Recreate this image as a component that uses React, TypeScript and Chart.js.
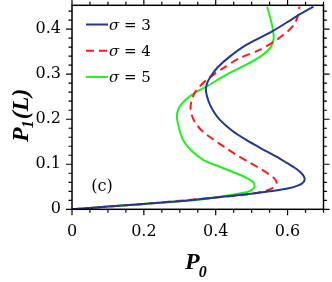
import React, { useEffect, useRef } from "react";
import { Chart, registerables } from "chart.js";

Chart.register(...registerables);

// ---- data ----
const sigmaLabels = ["σ = 3", "σ = 4", "σ = 5"];

const blueP0 = [0, 0.1, 0.2, 0.3, 0.4, 0.48, 0.55, 0.6, 0.63, 0.645, 0.647, 0.64, 0.624, 0.598, 0.569, 0.527, 0.485, 0.445, 0.411, 0.392, 0.38, 0.373, 0.376, 0.388, 0.405, 0.439, 0.485, 0.557, 0.624, 0.672];
const blueP1 = [0, 0.006, 0.012, 0.018, 0.026, 0.033, 0.04, 0.046, 0.053, 0.061, 0.07, 0.079, 0.09, 0.103, 0.117, 0.135, 0.154, 0.175, 0.199, 0.22, 0.24, 0.262, 0.28, 0.297, 0.315, 0.339, 0.365, 0.395, 0.428, 0.45];

const redP0 = [0, 0.1, 0.2, 0.3, 0.4, 0.476, 0.53, 0.558, 0.569, 0.566, 0.552, 0.522, 0.49, 0.457, 0.425, 0.395, 0.365, 0.344, 0.333, 0.33, 0.334, 0.345, 0.374, 0.42, 0.467, 0.522, 0.569, 0.6, 0.618, 0.628, 0.632, 0.633];
const redP1 = [0, 0.006, 0.012, 0.019, 0.026, 0.032, 0.039, 0.047, 0.057, 0.066, 0.076, 0.091, 0.106, 0.121, 0.138, 0.154, 0.172, 0.191, 0.21, 0.228, 0.245, 0.263, 0.287, 0.313, 0.336, 0.354, 0.376, 0.395, 0.41, 0.428, 0.443, 0.45];

const greenP0 = [0, 0.1, 0.2, 0.3, 0.36, 0.411, 0.458, 0.49, 0.505, 0.508, 0.504, 0.485, 0.457, 0.41, 0.365, 0.333, 0.309, 0.298, 0.292, 0.298, 0.317, 0.343, 0.375, 0.43, 0.485, 0.531, 0.553, 0.561, 0.56, 0.555, 0.549, 0.543];
const greenP1 = [0, 0.006, 0.012, 0.018, 0.022, 0.028, 0.034, 0.039, 0.046, 0.052, 0.061, 0.07, 0.08, 0.095, 0.11, 0.13, 0.154, 0.18, 0.206, 0.226, 0.244, 0.259, 0.273, 0.299, 0.321, 0.343, 0.36, 0.378, 0.395, 0.415, 0.433, 0.45];

const xTickValues = [0, 0.2, 0.4, 0.6];
const yTickValues = [0, 0.1, 0.2, 0.3, 0.4];
const panelLabel = "(c)";

const colors = ["#22388f", "#ff1a1a", "#22ee22"];
const dashes: number[][] = [[], [8, 5], []];

function pts(xs: number[], ys: number[]) {
  return xs.map((v, i) => ({ x: v, y: ys[i] }));
}

const decorPlugin = {
  id: "decor",
  afterDraw(chart: any) {
    const { ctx, chartArea: a, scales } = chart;
    const xs = scales.x;
    const ys = scales.y;
    ctx.save();
    // frame
    ctx.strokeStyle = "#000";
    ctx.lineWidth = 1.5;
    ctx.strokeRect(a.left, a.top, a.right - a.left, a.bottom - a.top);
    // ticks (outward)
    ctx.lineWidth = 1.2;
    ctx.beginPath();
    for (let i = 0; i <= 14; i++) {
      const px = xs.getPixelForValue(i * 0.05);
      const len = i % 4 === 0 ? 6 : 3.5;
      ctx.moveTo(px, a.bottom);
      ctx.lineTo(px, a.bottom + len);
      ctx.moveTo(px, a.top);
      ctx.lineTo(px, a.top - len);
    }
    for (let i = 0; i <= 22; i++) {
      const py = ys.getPixelForValue(i * 0.02);
      const len = i % 5 === 0 ? 6 : 3.5;
      ctx.moveTo(a.left, py);
      ctx.lineTo(a.left - len, py);
      ctx.moveTo(a.right, py);
      ctx.lineTo(a.right + len, py);
    }
    ctx.stroke();

    // legend
    const ds = chart.data.datasets;
    ds.forEach((d: any, i: number) => {
      const yy = 24.5 + i * 26.2;
      ctx.save();
      ctx.strokeStyle = d.borderColor;
      ctx.lineWidth = d.borderWidth;
      ctx.setLineDash(d.borderDash || []);
      ctx.beginPath();
      ctx.moveTo(86, yy);
      ctx.lineTo(108, yy);
      ctx.stroke();
      ctx.restore();
      ctx.fillStyle = "#000";
      ctx.textBaseline = "alphabetic";
      const label: string = d.label;
      const sym = label.charAt(0);
      const rest = label.slice(1);
      ctx.font = 'italic 15px "DejaVu Serif"';
      ctx.fillText(sym, 109, yy + 5);
      const w = ctx.measureText(sym).width;
      ctx.font = '15px "DejaVu Serif"';
      ctx.fillText(rest, 109 + w, yy + 5);
    });

    // panel label
    ctx.font = '16px "DejaVu Serif"';
    ctx.fillStyle = "#000";
    ctx.textAlign = "center";
    ctx.fillText(panelLabel, 102, 191);
    ctx.textAlign = "left";

    // x title P_0
    ctx.font = 'bold italic 24px "Liberation Serif"';
    ctx.fillText("P", 185, 269);
    let wP = ctx.measureText("P").width;
    ctx.font = 'bold italic 16px "Liberation Serif"';
    ctx.fillText("0", 185 + wP - 1, 277);

    // y title P_1(L)
    ctx.save();
    ctx.translate(28, 142);
    ctx.rotate(-Math.PI / 2);
    ctx.font = 'bold italic 24px "Liberation Serif"';
    ctx.fillText("P", 0, 0);
    wP = ctx.measureText("P").width;
    ctx.font = 'bold italic 16px "Liberation Serif"';
    ctx.fillText("1", wP - 1, 5);
    const w1 = ctx.measureText("1").width;
    ctx.font = 'bold italic 24px "Liberation Serif"';
    ctx.fillText("(L)", wP + w1, 0);
    ctx.restore();

    ctx.restore();
  },
};

export default function App() {
  const ref = useRef<HTMLCanvasElement | null>(null);
  useEffect(() => {
    if (!ref.current) return;
    const series = [
      pts(blueP0, blueP1),
      pts(redP0, redP1),
      pts(greenP0, greenP1),
    ];
    const chart = new Chart(ref.current, {
      type: "scatter",
      data: {
        datasets: series.map((s, i) => ({
          label: sigmaLabels[i],
          data: s,
          showLine: true,
          borderColor: colors[i],
          backgroundColor: colors[i],
          borderWidth: 2,
          borderDash: dashes[i],
          pointRadius: 0,
          tension: 0.3,
          fill: false,
        })),
      },
      options: {
        animation: false,
        responsive: false,
        events: [],
        layout: { padding: { left: 0, right: 8.5, top: 5.3, bottom: 0 } },
        plugins: { legend: { display: false }, tooltip: { enabled: false } },
        scales: {
          x: {
            type: "linear",
            min: 0,
            max: 0.7,
            grid: { display: false, drawTicks: false },
            border: { display: false },
            afterBuildTicks: (s: any) => {
              s.ticks = xTickValues.map((v) => ({ value: v }));
            },
            afterFit: (s: any) => {
              s.height = 282 - 209.3;
              s.paddingLeft = 0;
              s.paddingRight = 0;
              s.paddingTop = 0;
              s.paddingBottom = 0;
            },
            ticks: {
              padding: 13,
              color: "#000",
              font: { family: "DejaVu Serif", size: 16 },
              callback: (v: any) => (Number(v) === 0 ? "0" : Number(v).toFixed(1)),
            },
          },
          y: {
            type: "linear",
            min: 0,
            max: 0.453,
            grid: { display: false, drawTicks: false },
            border: { display: false },
            afterBuildTicks: (s: any) => {
              s.ticks = yTickValues.map((v) => ({ value: v }));
            },
            afterFit: (s: any) => {
              s.width = 72;
              s.paddingLeft = 0;
              s.paddingRight = 0;
              s.paddingTop = 0;
              s.paddingBottom = 0;
            },
            ticks: {
              padding: 11,
              color: "#000",
              font: { family: "DejaVu Serif", size: 16 },
              callback: (v: any) => (Number(v) === 0 ? "0" : Number(v).toFixed(1)),
            },
          },
        },
      },
      plugins: [decorPlugin],
    } as any);
    return () => chart.destroy();
  }, []);
  return (
    <div style={{ position: "fixed", left: 0, top: 0, width: 332, height: 282, background: "#fff" }}>
      <canvas ref={ref} width={332} height={282} style={{ display: "block" }} />
    </div>
  );
}
